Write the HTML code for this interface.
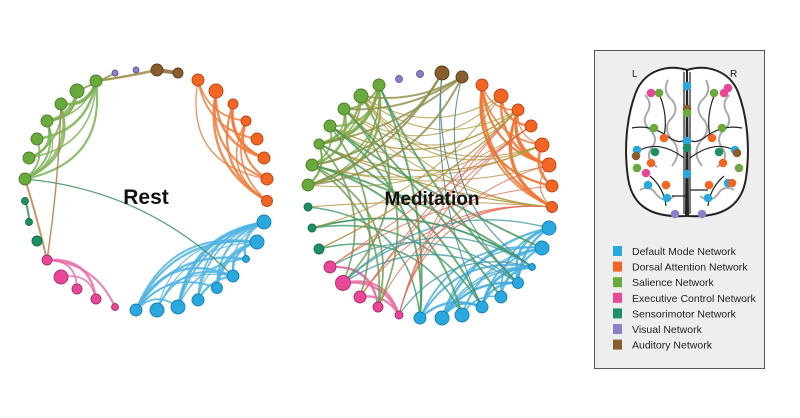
<!DOCTYPE html>
<html><head><meta charset="utf-8"><style>
html,body{margin:0;padding:0;background:#fff;}
svg{display:block;}
text{font-family:"Liberation Sans",Arial,sans-serif;}
</style></head><body>
<svg id="s" width="800" height="418" viewBox="0 0 800 418" xmlns="http://www.w3.org/2000/svg">
<rect width="800" height="418" fill="#fff"/>
<g id="edges" fill="none"></g>
<g id="nodes"></g>
<text x="146" y="204" font-size="21" font-weight="bold" text-anchor="middle" fill="#111">Rest</text>
<text x="432" y="205" font-size="19" font-weight="bold" text-anchor="middle" fill="#111">Meditation</text>
<rect x="594.5" y="50.5" width="170" height="318" fill="#efeeee" stroke="#555" stroke-width="1"/>
<g id="brain">
<path d="M687,70 C668,64 645,70 636,92 C626,118 624,150 628,178 C632,205 650,218 686,216 Z" fill="#fff" stroke="#222" stroke-width="2"/>
<path d="M687,70 C706,64 729,70 738,92 C748,118 750,150 746,178 C742,205 724,218 688,216 Z" fill="#fff" stroke="#222" stroke-width="2"/>
<g stroke="#aaa" stroke-width="2" fill="none">
<path d="M645,95 q8,8 2,18 q-6,10 4,18 q8,8 0,18 q-6,10 6,18"/>
<path d="M668,80 q-6,12 4,20 q8,10 -2,20 q-8,10 4,22 q8,12 -2,24"/>
<path d="M729,95 q-8,8 -2,18 q6,10 -4,18 q-8,8 0,18 q6,10 -6,18"/>
<path d="M706,80 q6,12 -4,20 q-8,10 2,20 q8,10 -4,22 q-8,12 2,24"/>
<path d="M640,190 q10,-6 16,4 q8,10 18,2"/><path d="M734,190 q-10,-6 -16,4 q-8,10 -18,2"/>
</g>
<g stroke="#222" stroke-width="1.2" fill="none">
<path d="M684,72 L684,214 M690,72 L690,214"/>
<path d="M632,128 q20,-4 38,10 q10,6 14,2"/><path d="M742,128 q-20,-4 -38,10 q-10,6 -14,2"/>
<path d="M640,150 q20,-10 44,8"/><path d="M734,150 q-20,-10 -44,8"/>
<path d="M660,96 q8,20 4,40"/><path d="M714,96 q-8,20 -4,40"/>
<path d="M650,176 q14,12 16,30"/><path d="M724,176 q-14,12 -16,30"/>
<path d="M672,196 l14,0"/><path d="M690,190 l18,0"/>
</g>
</g>
<g id="bnodes"></g>
<text x="632" y="77" font-size="10" fill="#222">L</text>
<text x="730" y="77" font-size="10" fill="#222">R</text>
<g id="leg" font-size="10.5" fill="#222"></g>
</svg>
<script>
var NS="http://www.w3.org/2000/svg";
var C={b:"#28a8df",o:"#f26522",g:"#6aa93c",p:"#e9469a",s:"#1d9163",v:"#8c80c8",a:"#8a5d2c"};
var D={b:"#1b7fb0",o:"#b8461a",g:"#4a7d2a",p:"#a82f6e",s:"#136b47",v:"#5e56a0",a:"#5d3d1b"};
function el(t,a,p){var e=document.createElementNS(NS,t);for(var k in a)e.setAttribute(k,a[k]);(p||document.getElementById("nodes")).appendChild(e);return e;}
var rest=[["a",157,70,6],["a",178,73,5],["v",115,73,3],["v",136,70,3],
["g",96,81,6],["g",77,91,7],["g",61,104,6],["g",47,121,6],["g",37,139,6],["g",29,158,6],["g",25,179,6],
["s",25,201,3.5],["s",29,222,3.5],["s",37,241,5],
["p",47,260,5],["p",61,277,7],["p",77,289,5],["p",96,299,5],["p",115,307,3.5],
["b",136,310,6],["b",157,310,7],["b",178,307,7],["b",198,300,6],["b",217,288,5.5],["b",233,276,6],["b",246,259,3.5],["b",257,242,7],["b",264,222,7],
["o",267,201,5.5],["o",267,179,6],["o",264,158,6],["o",257,139,6],["o",246,121,5],["o",233,104,5],["o",216,91,7],["o",198,80,6]];
var med=[["a",442,73,7],["a",462,77,6],["v",399,79,3.5],["v",420,74,3.5],
["g",379,85,6],["g",361,96,7],["g",344,109,6],["g",330,126,6],["g",319,144,5],["g",312,165,6],["g",308,185,6],
["s",308,207,4],["s",312,228,4],["s",319,249,5],
["p",330,267,6],["p",343,283,7.5],["p",360,297,6],["p",378,307,5],["p",399,315,4],
["b",420,318,6],["b",442,318,7],["b",462,315,7],["b",482,307,6],["b",501,297,6],["b",518,283,5.5],["b",532,267,3.5],["b",542,248,7],["b",549,228,7],
["o",552,207,5.5],["o",552,186,6],["o",549,165,7],["o",542,145,7],["o",531,126,6],["o",518,110,6],["o",501,96,7],["o",482,85,6]];
var seed=11;function R(){seed=(seed*16807)%2147483647;return seed/2147483647;}
function idx(arr,g){var r=[];arr.forEach(function(n,i){if(n[0]==g)r.push(i);});return r;}
function edge(arr,cx,cy,i,j,col,w,f,op){var a=arr[i],b=arr[j];var mx=(a[1]+b[1])/2,my=(a[2]+b[2])/2;
var d=Math.hypot(a[1]-b[1],a[2]-b[2]);var dc=Math.hypot(cx-mx,cy-my)||1;var t=Math.min(1,f*d/dc);
var qx=mx+(cx-mx)*t,qy=my+(cy-my)*t;
el("path",{d:"M"+a[1]+","+a[2]+" Q"+qx.toFixed(1)+","+qy.toFixed(1)+" "+b[1]+","+b[2],stroke:col,"stroke-width":w.toFixed(2),"stroke-opacity":op||0.85},document.getElementById("edges"));}
function within(arr,cx,cy,g,n,col,f){var L=idx(arr,g);for(var t=0;t<n;t++){var i=L[Math.floor(R()*L.length)],j=L[Math.floor(R()*L.length)];if(Math.abs(i-j)<2)continue;edge(arr,cx,cy,i,j,col,1+R()*1.6,f+R()*0.2);}}
function cross(arr,cx,cy,g1,g2,n,col,f,w){var A=idx(arr,g1),B=idx(arr,g2);for(var t=0;t<n;t++){edge(arr,cx,cy,A[Math.floor(R()*A.length)],B[Math.floor(R()*B.length)],col,w||1.2,f+R()*0.2,0.8);}}
// REST
within(rest,146,190,"g",30,"#7cb356",0.3);
within(rest,146,190,"o",18,"#f07a3a",0.3);
within(rest,146,190,"b",36,"#4fb3e0",0.25);
within(rest,146,190,"p",8,"#ea6aa8",0.3);
edge(rest,146,190,11,12,"#2a8f60",2,0.1);
edge(rest,146,190,10,24,"#3e9060",1.3,0.2);
edge(rest,146,190,4,0,"#9a8a40",2.5,0.02);edge(rest,146,190,5,2,"#8a9a4a",2,0.02);
edge(rest,146,190,10,14,"#c08050",2,0.02);edge(rest,146,190,6,14,"#b08050",1.5,0.03);
edge(rest,146,190,0,1,"#8a6a3a",4,0);
// MEDITATION
within(med,430,197,"g",30,"#7aab4a",0.3);
within(med,430,197,"o",30,"#f07533",0.3);
within(med,430,197,"b",34,"#45aedf",0.25);
within(med,430,197,"p",8,"#e86aa5",0.3);
cross(med,430,197,"o","g",18,"#b09a45",0.3,1.1);
cross(med,430,197,"g","b",8,"#4a9a58",0.3,2);
cross(med,430,197,"s","b",5,"#3e9a6a",0.3,1.6);
cross(med,430,197,"o","p",10,"#ea6450",0.35,1);
cross(med,430,197,"a","b",3,"#3f7f86",0.3,1.1);
cross(med,430,197,"g","p",6,"#6d9a50",0.25,1.8);
cross(med,430,197,"a","g",6,"#8e8c48",0.1,2);
cross(med,430,197,"p","b",5,"#4a9aa0",0.25,1.4);
cross(med,430,197,"o","s",4,"#b9903e",0.3,1.1);
[rest,med].forEach(function(arr){arr.forEach(function(n){el("circle",{cx:n[1],cy:n[2],r:n[3],fill:C[n[0]],stroke:D[n[0]],"stroke-width":0.9});});});
var bn=[["b",687,86],["b",687,141],["b",687,174],["b",637,150],["b",648,185],["b",667,198],["b",708,198],["b",728,183],["b",735,150],
["a",687,109],["s",687,148],["p",651,93],["p",724,93],["p",728,88],["p",646,173],
["g",659,93],["g",714,93],["g",687,113],["g",654,128],["g",722,128],["g",637,168],["g",739,168],
["o",664,138],["o",712,138],["o",651,163],["o",723,163],["o",666,185],["o",709,185],["o",732,183],
["a",636,156],["a",737,153],["s",655,152],["s",719,152],["v",675,214],["v",702,214]];
var bg=document.getElementById("bnodes");
bn.forEach(function(n){el("circle",{cx:n[1],cy:n[2],r:4.3,fill:C[n[0]]},bg);});
var lg=[["b","Default Mode Network"],["o","Dorsal Attention Network"],["g","Salience Network"],["p","Executive Control Network"],["s","Sensorimotor Network"],["v","Visual Network"],["a","Auditory Network"]];
var lgG=document.getElementById("leg");
lg.forEach(function(l,i){var y=246+i*15.6;el("rect",{x:613,y:y,width:9,height:10,fill:C[l[0]]},lgG);var t=el("text",{x:632,y:y+9},lgG);t.textContent=l[1];});
</script>
</body></html>
